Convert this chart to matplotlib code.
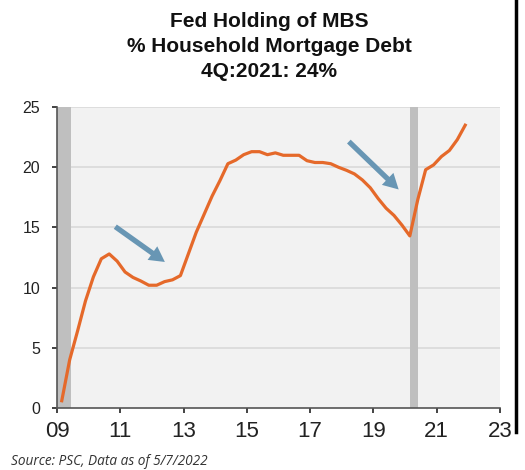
import numpy as np
import pandas as pd
import matplotlib
matplotlib.use("Agg")
import matplotlib.pyplot as plt
from matplotlib.patches import FancyArrowPatch
from matplotlib.lines import Line2D

plt.rcParams['font.family'] = ['Liberation Sans', 'DejaVu Sans']

# quarterly data, 1Q2009 - 4Q2021 (% of household mortgage debt)
quarters = pd.period_range('2009Q1', '2021Q4', freq='Q')
mbs_share = [0.6, 4.0, 6.4, 8.9, 10.9, 12.4, 12.8, 12.2,
             11.3, 10.85, 10.55, 10.2, 10.2, 10.5, 10.65, 11.0,
             12.8, 14.6, 16.1, 17.6, 18.9, 20.3, 20.6, 21.05,
             21.3, 21.3, 21.05, 21.2, 21.0, 21.0, 21.0, 20.55,
             20.4, 20.4, 20.3, 20.0, 19.75, 19.45, 18.95, 18.3,
             17.4, 16.6, 16.0, 15.2, 14.3, 17.3, 19.8, 20.2,
             20.9, 21.4, 22.3, 23.5]

recessions = [(2009.0, 2009.45), (2020.17, 2020.42)]
# (start, tip) of the two callout arrows, in data units
arrows = [((2010.77, 15.2), (2012.48, 12.0)),
          ((2018.16, 22.3), (2019.86, 18.0))]

xticks = list(range(2009, 2024, 2))
xlabels = ['%02d' % (y % 100) for y in xticks]
yticks = [0, 5, 10, 15, 20, 25]

x = np.array([q.year + (q.quarter - 1) * 0.25 + 0.15 for q in quarters])

fig = plt.figure(figsize=(5.25, 4.7), dpi=100)
ax = fig.add_axes([0.1086, 0.132, 0.8438, 0.640])
ax.set_facecolor('#f2f2f2')

for y in yticks[1:]:
    ax.axhline(y, color='#d9d9d9', lw=1.2, zorder=1)
for a, b in recessions:
    ax.axvspan(a, b, color='#bfbfbf', lw=0, zorder=2)

ax.plot(x, mbs_share, color='#e5692a', lw=2.3, zorder=4, solid_joinstyle='round')

for (x0, y0), (x1, y1) in arrows:
    arr = FancyArrowPatch((x0, y0), (x1, y1),
                          arrowstyle='simple,head_length=1.1,head_width=1.2,tail_width=0.38',
                          mutation_scale=10, color='#6896b4', lw=0, zorder=5)
    ax.add_patch(arr)

ax.set_xlim(2009, 2023)
ax.set_ylim(0, 25)
ax.set_xticks(xticks)
ax.set_xticklabels(xlabels, fontsize=16,
                   family=['Liberation Sans Narrow', 'Liberation Sans', 'DejaVu Sans'])
ax.set_yticks(yticks)
ax.tick_params(axis='both', colors='#222222', length=3.6, width=1.2)
ax.tick_params(axis='y', labelsize=11.5, pad=8.5)
ax.tick_params(axis='x', pad=6)
for s in ['top', 'right']:
    ax.spines[s].set_visible(False)
for s in ['left', 'bottom']:
    ax.spines[s].set_color('#555555')
    ax.spines[s].set_linewidth(1.2)

fig.text(0.513, 0.943, 'Fed Holding of MBS', ha='center', va='baseline',
         fontsize=15, fontweight='bold', color='#111111')
fig.text(0.513, 0.890, '% Household Mortgage Debt', ha='center', va='baseline',
         fontsize=15, fontweight='bold', color='#111111')
fig.text(0.513, 0.837, '4Q:2021: 24%', ha='center', va='baseline',
         fontsize=15, fontweight='bold', color='#111111')

fig.text(0.021, 0.01, 'Source: PSC, Data as of 5/7/2022', ha='left', va='baseline',
         fontsize=9.8, style='italic', color='#333333', family=['Open Sans', 'DejaVu Sans'])

fig.add_artist(Line2D([0.983, 0.983], [0.08, 1.0], transform=fig.transFigure,
                      color='black', lw=2.5))

fig.savefig('out.png', dpi=100)
